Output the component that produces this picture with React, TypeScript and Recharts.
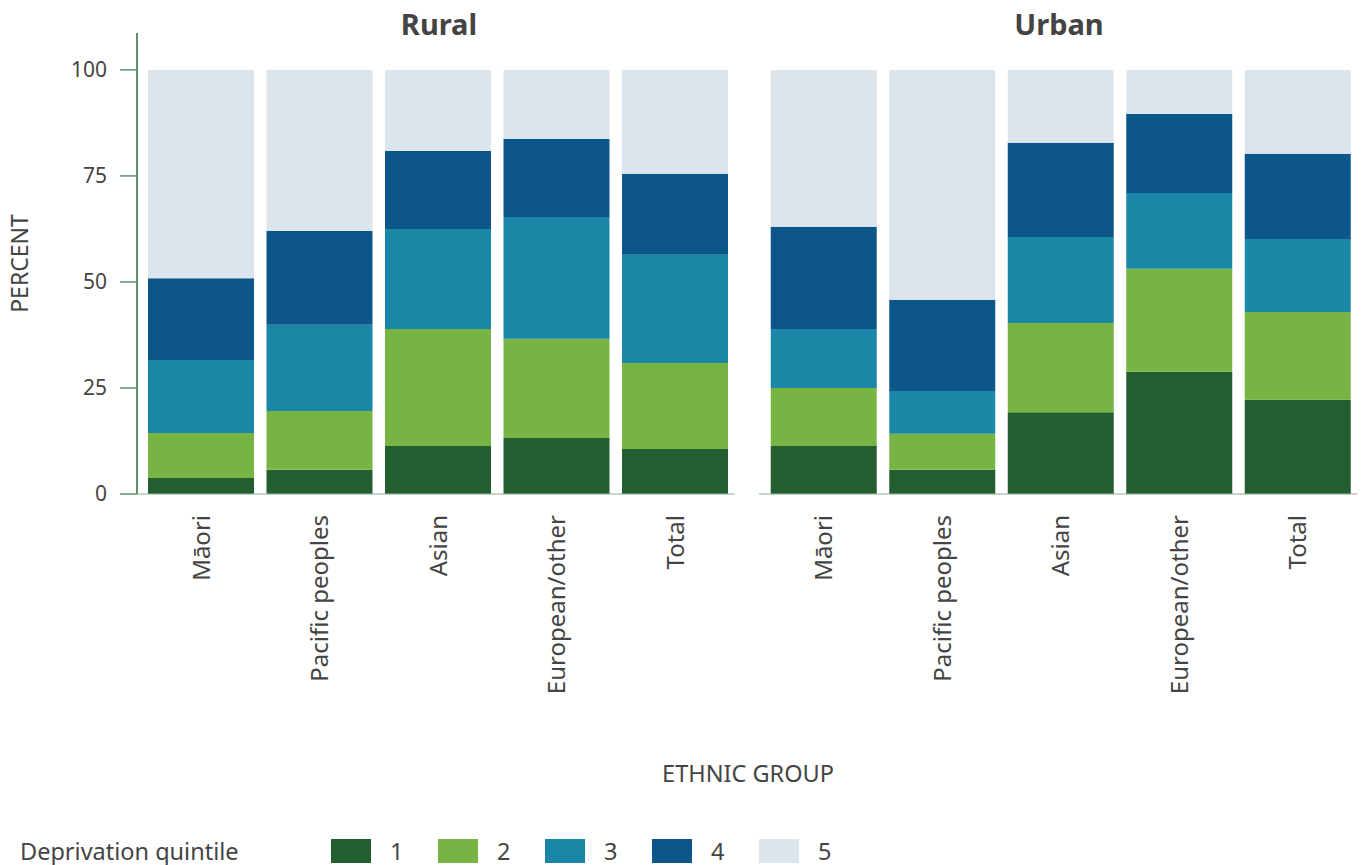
import React from 'react';
import { BarChart, Bar, XAxis, YAxis } from 'recharts';

const categories = ['Māori', 'Pacific peoples', 'Asian', 'European/other', 'Total'];
const quintiles = ['1', '2', '3', '4', '5'];
const colors = ['#235e31', '#78b443', '#1a87a7', '#0d5689', '#dce4ec'];
const yTicks = [0, 25, 50, 75, 100];

const rural1 = [3.8, 5.7, 11.3, 13.2, 10.6];
const rural2 = [10.6, 13.9, 27.6, 23.4, 20.3];
const rural3 = [17.2, 20.3, 23.6, 28.7, 25.5];
const rural4 = [19.3, 22.1, 18.4, 18.4, 19.1];
const rural5 = [49.1, 38.0, 19.1, 16.3, 24.5];

const urban1 = [11.3, 5.7, 19.3, 28.8, 22.2];
const urban2 = [13.7, 8.5, 21.0, 24.3, 20.7];
const urban3 = [13.9, 10.1, 20.3, 17.9, 17.2];
const urban4 = [24.1, 21.5, 22.2, 18.6, 20.1];
const urban5 = [37.0, 54.2, 17.2, 10.4, 19.8];

const build = (series: number[][]) =>
  categories.map((c, i) => {
    const row: any = { name: c };
    quintiles.forEach((q, k) => {
      row['q' + q] = series[k][i];
    });
    return row;
  });

const ruralData = build([rural1, rural2, rural3, rural4, rural5]);
const urbanData = build([urban1, urban2, urban3, urban4, urban5]);

const FONT = '"Noto Sans", sans-serif';
const TEXT = '#444444';
const DOMAIN: [number, number] = [0, 108.7];

const XTick = (props: any) => {
  const { x, y, payload } = props;
  return (
    <g transform={`translate(${x},${y})`}>
      <text
        x={0}
        y={0}
        dy="0.35em"
        textAnchor="end"
        transform="rotate(-90)"
        fill={TEXT}
        fontSize={24}
        fontFamily={FONT}
      >
        {payload.value}
      </text>
    </g>
  );
};

const Panel = ({ data, showY }: { data: any[]; showY: boolean }) => (
  <BarChart
    width={showY ? 740 : 623}
    height={700}
    data={data}
    margin={{ top: 33, right: showY ? 5.5 : 5.75, bottom: 0, left: showY ? 0 : 19 }}
    barSize={106}
  >
    <XAxis
      dataKey="name"
      height={206}
      tick={<XTick />}
      tickLine={false}
      tickSize={0}
      tickMargin={21}
      interval={0}
      axisLine={{ stroke: '#8fae98', strokeWidth: 1 }}
      padding={{ left: showY ? 5 : 5.75, right: 0 }}
    />
    <YAxis
      hide={!showY}
      width={137}
      domain={DOMAIN}
      ticks={yTicks}
      interval={0}
      allowDataOverflow
      tickSize={17}
      tickMargin={13}
      axisLine={{ stroke: '#2e6a3c', strokeWidth: 1.5 }}
      tickLine={{ stroke: '#5f8f6c', strokeWidth: 1.5 }}
      tick={{ fill: TEXT, fontSize: 21, fontFamily: FONT }}
      label={{
        value: 'PERCENT',
        angle: -90,
        position: 'insideLeft',
        offset: 20,
        style: { textAnchor: 'middle', fill: TEXT, fontSize: 23, fontFamily: FONT },
      }}
    />
    {quintiles.map((q, k) => (
      <Bar key={q} dataKey={'q' + q} stackId="a" fill={colors[k]} isAnimationActive={false} />
    ))}
  </BarChart>
);

export default function App() {
  return (
    <div
      style={{
        position: 'absolute',
        left: 0,
        top: 0,
        width: 1363,
        height: 865,
        background: '#ffffff',
        fontFamily: FONT,
        color: TEXT,
      }}
    >
      <div style={{ position: 'absolute', left: 0, top: 0 }}>
        <Panel data={ruralData} showY={true} />
      </div>
      <div style={{ position: 'absolute', left: 740, top: 0 }}>
        <Panel data={urbanData} showY={false} />
      </div>
      <div
        style={{
          position: 'absolute',
          left: 339,
          width: 200,
          top: 5,
          textAlign: 'center',
          fontSize: 29,
          fontWeight: 700,
          lineHeight: '38px',
        }}
      >
        Rural
      </div>
      <div
        style={{
          position: 'absolute',
          left: 959,
          width: 200,
          top: 5,
          textAlign: 'center',
          fontSize: 29,
          fontWeight: 700,
          lineHeight: '38px',
        }}
      >
        Urban
      </div>
      <div
        style={{
          position: 'absolute',
          left: 548,
          width: 400,
          top: 757,
          textAlign: 'center',
          fontSize: 23.5,
          lineHeight: '32px',
        }}
      >
        ETHNIC GROUP
      </div>
      <div style={{ position: 'absolute', left: 20, top: 835, fontSize: 23.5, lineHeight: '32px' }}>
        Deprivation quintile
      </div>
      {quintiles.map((q, k) => (
        <div
          key={q}
          style={{ position: 'absolute', left: 331 + k * 107, top: 835, height: 32, display: 'flex', alignItems: 'center' }}
        >
          <div style={{ width: 40, height: 24, background: colors[k] }} />
          <div style={{ marginLeft: 19, fontSize: 23.5, lineHeight: '32px' }}>{q}</div>
        </div>
      ))}
    </div>
  );
}
